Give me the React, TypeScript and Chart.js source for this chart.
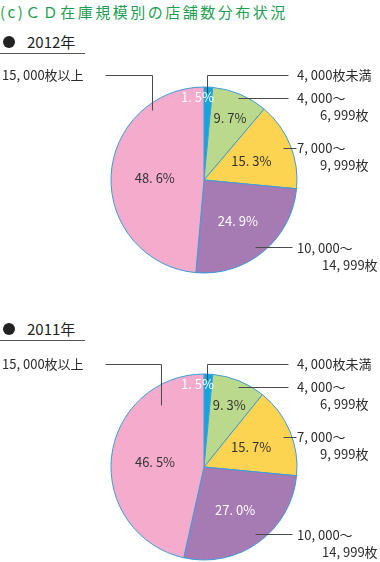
import React, { useEffect, useRef } from "react";
import { Chart, registerables } from "chart.js";

Chart.register(...registerables);

// ---- data ----
const categories = ["4,000枚未満", "4,000～6,999枚", "7,000～9,999枚", "10,000～14,999枚", "15,000枚以上"];
const values2012 = [1.5, 9.7, 15.3, 24.9, 48.6];
const values2011 = [1.5, 9.3, 15.7, 27.0, 46.5];
const calloutLines = [["4, 000枚未満"], ["4, 000～", "6, 999枚"], ["7, 000～", "9, 999枚"], ["10, 000～", "14, 999枚"], ["15, 000枚以上"]];
const sliceColors = ["#12a5df", "#bbd98c", "#fdd452", "#a67ab2", "#f4abcc"];
const pctTextColors = ["#ffffff", "#333333", "#333333", "#ffffff", "#333333"];

const FONT = '"Noto Sans CJK JP", "Noto Sans", sans-serif';

const fmt = (v: number) => {
  const [a, b] = v.toFixed(1).split(".");
  return `${a}. ${b}%`;
};

type Callout = { lines: string[]; pos: [number, number][]; path: [number, number][] };

const calloutPlugin = {
  id: "callouts",
  afterDatasetsDraw(chart: any, _args: any, opts: any) {
    const meta = chart.getDatasetMeta(0);
    if (!meta || !meta.data.length) return;
    const a0 = meta.data[0].getProps(["x", "y", "outerRadius"], true);
    const cx = Math.round(a0.x);
    const cy = Math.round(a0.y);
    const R = a0.outerRadius;
    const ctx = chart.ctx;
    const ds = chart.data.datasets[0];
    ctx.save();
    ctx.textBaseline = "middle";
    // percentage labels
    ctx.font = `13px ${FONT}`;
    meta.data.forEach((arc: any, i: number) => {
      const { startAngle, endAngle } = arc.getProps(["startAngle", "endAngle"], true);
      const mid = (startAngle + endAngle) / 2;
      const p = opts.pct[i];
      const x = cx + Math.cos(mid) * R * p.r + (p.dx || 0);
      const y = cy + Math.sin(mid) * R * p.r + (p.dy || 0);
      ctx.fillStyle = pctTextColors[i];
      ctx.textAlign = p.align || "center";
      ctx.fillText(fmt(ds.data[i]), x, y);
    });
    // callouts
    ctx.strokeStyle = "#4a4a4a";
    ctx.lineWidth = 1;
    ctx.font = `13px ${FONT}`;
    ctx.fillStyle = "#2b2b2b";
    ctx.textAlign = "left";
    (opts.callouts as Callout[]).forEach((c) => {
      ctx.beginPath();
      c.path.forEach(([px, py], k) => {
        const X = cx + px + 0.5;
        const Y = cy + py + 0.5;
        if (k) ctx.lineTo(X, Y);
        else ctx.moveTo(X, Y);
      });
      ctx.stroke();
      c.lines.forEach((t, k) => {
        ctx.fillText(t, cx + c.pos[k][0], cy + c.pos[k][1]);
      });
    });
    ctx.restore();
  },
};

const pctLayout = [
  { r: 0.89, align: "right", dx: 6, dy: 0 },
  { r: 0.72 },
  { r: 0.55 },
  { r: 0.57 },
  { r: 0.53 },
];

function makeCallouts(pinkX: number, pinkEnd: number, dy: number): Callout[] {
  return [
    { lines: calloutLines[0], pos: [[93, -105 + dy]], path: [[84, -105 + dy], [3, -105 + dy], [3, -87]] },
    { lines: calloutLines[1], pos: [[93, -82 + dy], [116, -65 + dy]], path: [[84, -82 + dy], [34, -82 + dy]] },
    { lines: calloutLines[2], pos: [[93, -32 + dy], [116, -15 + dy]], path: [[79, -32 + dy], [92, -32 + dy]] },
    { lines: calloutLines[3], pos: [[93, 68], [118, 85]], path: [[51, 67], [88, 67]] },
    { lines: calloutLines[4], pos: [[-202, -105 + dy]], path: [[-99, -105 + dy], [pinkX, -105 + dy], [pinkX, pinkEnd]] },
  ];
}

function PieChart({ values, top, height, callouts }: { values: number[]; top: number; height: number; callouts: Callout[] }) {
  const ref = useRef<HTMLCanvasElement | null>(null);
  useEffect(() => {
    if (!ref.current) return;
    const centerY = 120;
    const R = 93.5;
    const chart = new Chart(ref.current, {
      type: "pie",
      data: {
        labels: categories,
        datasets: [
          {
            data: values,
            backgroundColor: sliceColors,
            borderColor: "#3d9bd8",
            borderWidth: 1,
            hoverOffset: 0,
            offset: 0,
          },
        ],
      },
      options: {
        animation: false,
        responsive: false,
        maintainAspectRatio: false,
        layout: {
          padding: {
            left: 204 - R,
            right: 380 - 204 - R,
            top: centerY - R,
            bottom: height - centerY - R,
          },
        },
        plugins: {
          legend: { display: false },
          tooltip: { enabled: false },
          callouts: { pct: pctLayout, callouts },
        } as any,
      },
      plugins: [calloutPlugin],
    });
    return () => chart.destroy();
  }, []);
  return (
    <canvas
      ref={ref}
      width={380}
      height={height}
      style={{ position: "absolute", left: 0, top, width: 380, height }}
    />
  );
}

function Heading({ text, top }: { text: string; top: number }) {
  return (
    <div style={{ position: "absolute", left: 0, top, width: 85, height: 20, borderBottom: "1px solid #555" }}>
      <div
        style={{
          position: "absolute",
          left: 3,
          top: 3,
          width: 12,
          height: 12,
          borderRadius: 6,
          background: "#222",
        }}
      />
      <div
        style={{
          position: "absolute",
          left: 27,
          top: 0,
          fontFamily: FONT,
          fontSize: 15,
          lineHeight: "18px",
          color: "#222",
        }}
      >
        {text}
      </div>
    </div>
  );
}

export default function App() {
  return (
    <div style={{ position: "absolute", left: 0, top: 0, width: 380, height: 562, background: "#fff", overflow: "hidden" }}>
      <div
        style={{
          position: "absolute",
          left: 0,
          top: 3,
          fontFamily: FONT,
          fontSize: 15,
          lineHeight: "18px",
          letterSpacing: 2.5,
          color: "#1d9e52",
          whiteSpace: "nowrap",
        }}
      >
        (c)ＣＤ在庫規模別の店舗数分布状況
      </div>
      <Heading text="2012年" top={33} />
      <PieChart values={values2012} top={60} height={232} callouts={makeCallouts(-52, -70, 0)} />
      <Heading text="2011年" top={320} />
      <PieChart values={values2011} top={347} height={215} callouts={makeCallouts(-43, -62, 2)} />
    </div>
  );
}
